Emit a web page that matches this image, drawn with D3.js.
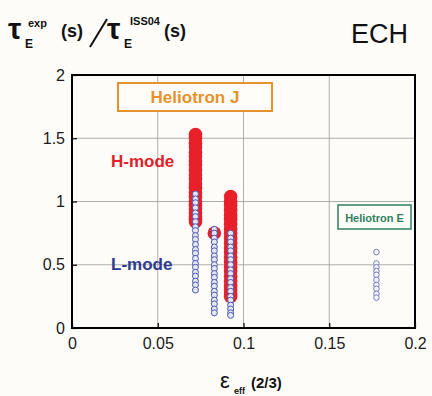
<!DOCTYPE html>
<html>
<head>
<meta charset="utf-8">
<script src="https://cdn.jsdelivr.net/npm/d3@7"></script>
<style>
  body { margin: 0; background: #fdfcf8; }
  text { font-family: "Liberation Sans", Arial, sans-serif; }
</style>
</head>
<body>
<script>
// values
var xTicks = [0, 0.05, 0.1, 0.15, 0.2];
var yTicks = [0, 0.5, 1, 1.5, 2];
var xTickLabels = ["0", "0.05", "0.1", "0.15", "0.2"];
var yTickLabels = ["0", "0.5", "1", "1.5", "2"];

// H-mode (red), Heliotron J: one x per column, list of y per column
var hModeX = [0.072, 0.083, 0.0925];
var hModeY = [
  [1.53, 1.50, 1.46, 1.43, 1.39, 1.36, 1.32, 1.29, 1.25, 1.21, 1.18, 1.14, 1.11, 1.07, 1.04, 1.00, 0.97, 0.94, 0.91, 0.88, 0.86, 0.84],
  [0.75],
  [1.04, 1.00, 0.97, 0.93, 0.89, 0.86, 0.82, 0.78, 0.75, 0.71, 0.67, 0.63, 0.60, 0.56, 0.52, 0.48, 0.45, 0.41, 0.37, 0.33, 0.30, 0.27, 0.25]
];

// L-mode (blue), Heliotron J
var lModeX = [0.072, 0.083, 0.0925];
var lModeY = [
  [1.06, 1.02, 0.99, 0.95, 0.91, 0.88, 0.84, 0.80, 0.77, 0.73, 0.70, 0.66, 0.62, 0.59, 0.55, 0.51, 0.48, 0.44, 0.41, 0.37, 0.34, 0.30],
  [0.78, 0.75, 0.71, 0.68, 0.64, 0.61, 0.57, 0.54, 0.50, 0.47, 0.43, 0.40, 0.36, 0.33, 0.29, 0.26, 0.22, 0.19, 0.15, 0.12],
  [0.75, 0.71, 0.68, 0.64, 0.61, 0.57, 0.54, 0.50, 0.46, 0.43, 0.39, 0.36, 0.32, 0.29, 0.25, 0.22, 0.18, 0.15, 0.12, 0.10]
];

// Heliotron E
var heX = [0.1775];
var heY = [[0.60, 0.51, 0.48, 0.45, 0.42, 0.38, 0.34, 0.31, 0.27, 0.24]];

function flatten(xs, ys) {
  var out = [];
  xs.forEach(function(xv, i){
    ys[i].forEach(function(yv){ out.push({x: xv, y: yv}); });
  });
  return out;
}

var margin = {top: 75, right: 17, bottom: 68, left: 72},
    width = 432 - margin.left - margin.right,
    height = 396 - margin.top - margin.bottom;

var svg = d3.select("body").append("svg")
    .attr("width", 432)
    .attr("height", 396);

var g = svg.append("g")
    .attr("transform", "translate(" + margin.left + "," + margin.top + ")");

var x = d3.scaleLinear().domain([0, 0.2]).range([0, width]);
var y = d3.scaleLinear().domain([0, 2]).range([height, 0]);

// grid
g.selectAll(".vgrid").data(xTicks).enter().append("line")
    .attr("x1", function(d){return x(d);}).attr("x2", function(d){return x(d);})
    .attr("y1", 0).attr("y2", height)
    .attr("stroke", "#9a9a9a").attr("stroke-width", 0.8);
g.selectAll(".hgrid").data(yTicks).enter().append("line")
    .attr("y1", function(d){return y(d);}).attr("y2", function(d){return y(d);})
    .attr("x1", 0).attr("x2", width)
    .attr("stroke", "#9a9a9a").attr("stroke-width", 0.8);

// axes
var xAxis = d3.axisBottom(x).tickValues(xTicks)
    .tickFormat(function(d, i){return xTickLabels[i];}).tickSizeInner(-5).tickSizeOuter(0).tickPadding(10);
var yAxis = d3.axisLeft(y).tickValues(yTicks)
    .tickFormat(function(d, i){return yTickLabels[i];}).tickSizeInner(-5).tickSizeOuter(0).tickPadding(7);

var gx = g.append("g").attr("transform", "translate(0," + height + ")").call(xAxis);
var gy = g.append("g").call(yAxis);
[gx, gy].forEach(function(a){
  a.select(".domain").remove();
  a.selectAll("line").attr("stroke", "#000").attr("stroke-width", 1.2);
  a.selectAll("text").attr("font-size", 16).attr("fill", "#1a1a1a")
    .attr("font-family", "'Liberation Sans', Arial, sans-serif");
});

// labels in plot
g.append("rect").attr("x", 118 - margin.left).attr("y", 83 - margin.top)
    .attr("width", 154).attr("height", 28)
    .attr("fill", "#fffdf8").attr("stroke", "#e8902c").attr("stroke-width", 2);
g.append("text").attr("x", 195 - margin.left).attr("y", 103 - margin.top)
    .attr("text-anchor", "middle").attr("font-size", 17).attr("font-weight", "bold")
    .attr("fill", "#e8902c").text("Heliotron J");

g.append("rect").attr("x", 338 - margin.left).attr("y", 205 - margin.top)
    .attr("width", 73).attr("height", 24)
    .attr("fill", "#fdfcf8").attr("stroke", "#2f7f60").attr("stroke-width", 1.5);
g.append("text").attr("x", 374.5 - margin.left).attr("y", 221.5 - margin.top)
    .attr("text-anchor", "middle").attr("font-size", 11).attr("font-weight", "bold")
    .attr("fill", "#2f7f60").text("Heliotron E");

g.append("text").attr("x", 111 - margin.left).attr("y", 167 - margin.top)
    .attr("font-size", 17).attr("font-weight", "bold").attr("fill", "#e0202a").text("H-mode");
g.append("text").attr("x", 111 - margin.left).attr("y", 270 - margin.top)
    .attr("font-size", 17).attr("font-weight", "bold").attr("fill", "#2c3a90").text("L-mode");

// H-mode red points
g.selectAll(".h").data(flatten(hModeX, hModeY)).enter().append("circle")
    .attr("cx", function(d){return x(d.x);})
    .attr("cy", function(d){return y(d.y);})
    .attr("r", 6.8)
    .attr("fill", "#e8202a");

// L-mode blue points
g.selectAll(".l").data(flatten(lModeX, lModeY)).enter().append("circle")
    .attr("cx", function(d){return x(d.x);})
    .attr("cy", function(d){return y(d.y);})
    .attr("r", 3)
    .attr("fill", "#e4e8f6").attr("stroke", "#4a58b0").attr("stroke-width", 1);

// Heliotron E points
g.selectAll(".e").data(flatten(heX, heY)).enter().append("circle")
    .attr("cx", function(d){return x(d.x);})
    .attr("cy", function(d){return y(d.y);})
    .attr("r", 2.8)
    .attr("fill", "#f3f3fa").attr("stroke", "#6a70b8").attr("stroke-width", 0.9);

// frame
g.append("rect").attr("width", width).attr("height", height)
    .attr("fill", "none").attr("stroke", "#000").attr("stroke-width", 2);

// ECH
svg.append("text").attr("x", 408).attr("y", 43).attr("text-anchor", "end")
    .attr("font-size", 27).attr("fill", "#111").text("ECH");

// y title: tau_E^exp (s) / tau_E^ISS04 (s)
var yt = svg.append("g").attr("fill", "#111");
yt.append("text").attr("x", 8).attr("y", 39).attr("font-size", 30).attr("font-weight", "bold")
    .attr("font-family", "'DejaVu Sans', sans-serif").text("τ");
yt.append("text").attr("x", 25).attr("y", 48).attr("font-size", 12).attr("font-weight", "bold").text("E");
yt.append("text").attr("x", 28).attr("y", 27).attr("font-size", 11).attr("font-weight", "bold").text("exp");
yt.append("text").attr("x", 61).attr("y", 37).attr("font-size", 18).attr("font-weight", "bold").text("(s)");
yt.append("line").attr("x1", 90).attr("y1", 47).attr("x2", 107).attr("y2", 19)
    .attr("stroke", "#111").attr("stroke-width", 2);
yt.append("text").attr("x", 107).attr("y", 39).attr("font-size", 30).attr("font-weight", "bold")
    .attr("font-family", "'DejaVu Sans', sans-serif").text("τ");
yt.append("text").attr("x", 124).attr("y", 48).attr("font-size", 12).attr("font-weight", "bold").text("E");
yt.append("text").attr("x", 130).attr("y", 25).attr("font-size", 11).attr("font-weight", "bold").text("ISS04");
yt.append("text").attr("x", 164).attr("y", 37).attr("font-size", 18).attr("font-weight", "bold").text("(s)");

// x title: eps_eff (2/3)
var xt = svg.append("g").attr("fill", "#111");
xt.append("text").attr("x", 220).attr("y", 388).attr("font-size", 22)
    .attr("font-family", "'DejaVu Serif', serif").text("ε");
xt.append("text").attr("x", 234).attr("y", 394).attr("font-size", 9).attr("font-weight", "bold").text("eff");
xt.append("text").attr("x", 251).attr("y", 388).attr("font-size", 15).attr("font-weight", "bold").text("(2/3)");
</script>
</body>
</html>
